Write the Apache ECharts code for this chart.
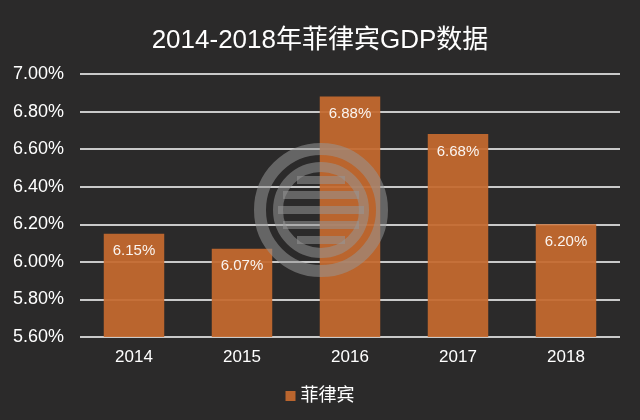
<!DOCTYPE html>
<html>
<head>
    <meta charset="utf-8">
    <title>菲律宾GDP</title>
    <style>
        html, body { margin: 0; padding: 0; background: #2b2a2a; }
    </style>
</head>
<body>
<div id="main" style="width: 640px;height:420px;"></div>
<script src="https://cdn.jsdelivr.net/npm/echarts@6/dist/echarts.min.js"></script>
<script type="text/javascript">
    // 数据
    var years = ['2014', '2015', '2016', '2017', '2018'];
    var gdpGrowth = [6.15, 6.07, 6.88, 6.68, 6.20];
    var seriesName = '菲律宾';

    var fontFamily = '"Liberation Sans", Arial, "Noto Sans CJK SC", sans-serif';
    var markGray = 'rgba(150,150,150,0.55)';
    var cx = 321, cy = 210;

    // 水印 (背景标志)
    var stripes = [[-30, 24], [-15, 38], [0, 43], [15, 38], [30, 24]];
    var watermark = [
        { type: 'circle', shape: { cx: cx, cy: cy, r: 61 }, style: { fill: 'none', stroke: markGray, lineWidth: 12 }, z: 100 },
        { type: 'circle', shape: { cx: cx, cy: cy, r: 43 }, style: { fill: 'none', stroke: markGray, lineWidth: 10 }, z: 100 }
    ];
    stripes.forEach(function (s) {
        watermark.push({ type: 'rect', shape: { x: cx - s[1], y: cy + s[0] - 4, width: s[1] * 2, height: 8 }, style: { fill: markGray }, z: 100 });
    });

    var myChart = echarts.init(document.getElementById('main'));
    var option = {
        backgroundColor: '#2b2a2a',
        textStyle: { fontFamily: fontFamily },
        title: {
            text: '2014-2018年菲律宾GDP数据',
            left: 'center',
            top: 23,
            textStyle: { color: '#ffffff', fontSize: 26, fontWeight: 'normal', fontFamily: fontFamily }
        },
        legend: {
            bottom: 10,
            left: 'center',
            itemWidth: 10,
            itemHeight: 10,
            itemGap: 4,
            icon: 'rect',
            data: [seriesName],
            textStyle: { color: '#ffffff', fontSize: 18, fontFamily: fontFamily }
        },
        grid: { left: 80, right: 20, top: 74, bottom: 83 },
        xAxis: {
            type: 'category',
            data: years,
            axisLine: { show: false },
            axisTick: { show: false },
            axisLabel: { color: '#ffffff', fontSize: 17, margin: 12 }
        },
        yAxis: {
            type: 'value',
            min: 5.6,
            max: 7.0,
            interval: 0.2,
            axisLine: { show: false },
            axisTick: { show: false },
            axisLabel: {
                color: '#ffffff',
                fontSize: 18,
                margin: 16,
                formatter: function (v) { return v.toFixed(2) + '%'; }
            },
            splitLine: { lineStyle: { color: '#ffffff', width: 1.5 } }
        },
        series: [{
            name: seriesName,
            type: 'bar',
            data: gdpGrowth,
            barWidth: '56%',
            itemStyle: { color: '#c5692e', opacity: 0.93 },
            label: {
                show: true,
                position: 'insideTop',
                distance: 10,
                color: '#ffffff',
                fontSize: 15,
                formatter: function (p) { return p.value.toFixed(2) + '%'; }
            }
        }],
        graphic: watermark
    };
    myChart.setOption(option);
</script>
</body>
</html>
